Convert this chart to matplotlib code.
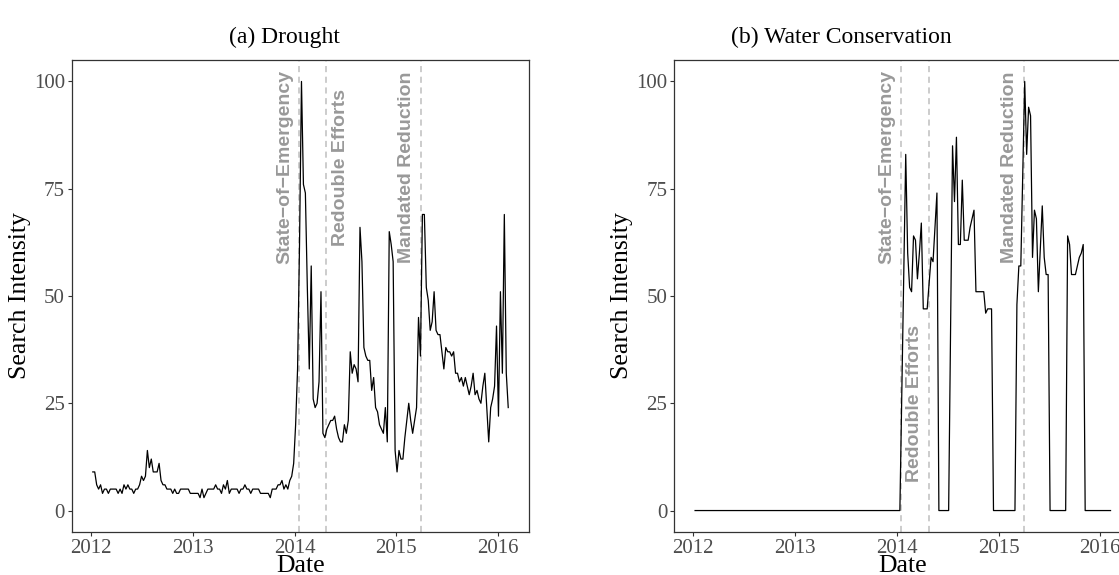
import numpy as np
import pandas as pd
import matplotlib
matplotlib.use("Agg")
import matplotlib.pyplot as plt
import matplotlib.dates as mdates

plt.rcParams['font.family'] = 'serif'
plt.rcParams['font.serif'] = ['Liberation Serif', 'DejaVu Serif']

# weekly Google Trends values, first week starting 2012-01-08
weeks = pd.date_range("2012-01-08", periods=214, freq="7D")

drought_2012 = [9, 9, 6, 5, 6, 4, 5, 5, 4, 5,
                5, 5, 5, 4, 5, 4, 6, 5, 6, 5,
                5, 4, 5, 5, 6, 8, 7, 8, 14, 10,
                12, 9, 9, 9, 11, 7, 6, 6, 5, 5,
                5, 4, 5, 4, 4, 5, 5, 5, 5, 5,
                4, 4]
drought_2013 = [4, 4, 4, 3, 5, 3, 4, 5, 5, 5,
                5, 6, 5, 5, 4, 6, 5, 7, 4, 5,
                5, 5, 5, 4, 5, 5, 6, 5, 5, 4,
                5, 5, 5, 5, 4, 4, 4, 4, 4, 3,
                5, 5, 5, 6, 6, 7, 5, 6, 5, 7,
                8, 11]
drought_2014_16 = [20, 33, 62, 100, 76, 74, 52, 33, 57, 26,
                   24, 25, 30, 51, 18, 17, 19, 20, 21, 21,
                   22, 19, 17, 16, 16, 20, 18, 21, 37, 32,
                   34, 33, 30, 66, 58, 38, 36, 35, 35, 28,
                   31, 24, 23, 20, 19, 18, 24, 16, 65, 62,
                   58, 14, 9, 14, 12, 12, 17, 21, 25, 21,
                   18, 21, 24, 45, 36, 69, 69, 52, 49, 42,
                   44, 51, 42, 41, 41, 37, 33, 38, 37, 37,
                   36, 37, 32, 32, 30, 31, 29, 31, 29, 27,
                   29, 32, 27, 28, 26, 25, 29, 32, 24, 16,
                   24, 26, 29, 43, 22, 51, 32, 69, 32, 24]

conservation_2012 = [0, 0, 0, 0, 0, 0, 0, 0, 0, 0,
                     0, 0, 0, 0, 0, 0, 0, 0, 0, 0,
                     0, 0, 0, 0, 0, 0, 0, 0, 0, 0,
                     0, 0, 0, 0, 0, 0, 0, 0, 0, 0,
                     0, 0, 0, 0, 0, 0, 0, 0, 0, 0,
                     0, 0]
conservation_2013 = [0, 0, 0, 0, 0, 0, 0, 0, 0, 0,
                     0, 0, 0, 0, 0, 0, 0, 0, 0, 0,
                     0, 0, 0, 0, 0, 0, 0, 0, 0, 0,
                     0, 0, 0, 0, 0, 0, 0, 0, 0, 0,
                     0, 0, 0, 0, 0, 0, 0, 0, 0, 0,
                     0, 0]
conservation_2014_16 = [0, 0, 28, 56, 83, 60, 52, 51, 64, 63,
                        54, 60, 67, 47, 47, 47, 53, 59, 58, 66,
                        74, 0, 0, 0, 0, 0, 0, 42, 85, 72,
                        87, 62, 62, 77, 63, 63, 63, 66, 68, 70,
                        51, 51, 51, 51, 51, 46, 47, 47, 47, 0,
                        0, 0, 0, 0, 0, 0, 0, 0, 0, 0,
                        0, 48, 57, 57, 78, 100, 83, 94, 92, 59,
                        70, 68, 51, 61, 71, 59, 55, 55, 0, 0,
                        0, 0, 0, 0, 0, 0, 0, 64, 62, 55,
                        55, 55, 57, 59, 60, 62, 0, 0, 0, 0,
                        0, 0, 0, 0, 0, 0, 0, 0, 0, 0]

drought = np.array(drought_2012 + drought_2013 + drought_2014_16)
conservation = np.array(conservation_2012 + conservation_2013 + conservation_2014_16)

event_dates = pd.to_datetime(["2014-01-17", "2014-04-25", "2015-04-01"])
event_labels = ["State\u2212of\u2212Emergency", "Redouble Efforts", "Mandated Reduction"]
# (side of line, vertical centre) for each panel
label_pos_drought = [(-1, 80), (1, 80), (-1, 80)]
label_pos_conservation = [(-1, 80), (-1, 25), (-1, 80)]

year_ticks = pd.to_datetime(["2012-01-01", "2013-01-01", "2014-01-01", "2015-01-01", "2016-01-01"])

W, H = 1119, 575
fig = plt.figure(figsize=(W / 100, H / 100), dpi=100)
ax1 = fig.add_axes([72 / W, 1 - 532 / H, 457 / W, 472 / H])
ax2 = fig.add_axes([674.3 / W, 1 - 532 / H, 457 / W, 472 / H])

span = weeks[-1] - weeks[0]
xlim = (mdates.date2num(weeks[0] - span * 0.05), mdates.date2num(weeks[-1] + span * 0.05))


def draw_panel(ax, values, label_pos):
    ax.plot(weeks, values, color="black", lw=0.9)
    for d in event_dates:
        ax.axvline(d, color="#BEBEBE", lw=1.1, ls=(0, (4, 3)), zorder=0)
    for d, lab, (side, yc) in zip(event_dates, event_labels, label_pos):
        xt = mdates.date2num(d) + side * 52
        ax.text(xt, yc, lab, rotation=90, ha="center", va="center",
                color="#999999", fontsize=14, fontweight="bold",
                family=["Liberation Sans", "DejaVu Sans"])
    ax.set_xlim(xlim)
    ax.set_ylim(-5, 105)
    ax.set_xticks(year_ticks)
    ax.xaxis.set_major_formatter(mdates.DateFormatter("%Y"))
    ax.set_yticks([0, 25, 50, 75, 100])
    for s in ax.spines.values():
        s.set_color("#333333")
        s.set_linewidth(0.9)
    ax.tick_params(direction="out", length=3, width=0.8, color="#333333",
                   labelcolor="#4D4D4D", labelsize=15, pad=2)
    ax.set_xlabel("Date", fontsize=18.5, labelpad=-2)
    ax.set_ylabel("Search Intensity", fontsize=18.5, labelpad=2)


draw_panel(ax1, drought, label_pos_drought)
draw_panel(ax2, conservation, label_pos_conservation)

fig.text(284 / W, 1 - 37 / H, "(a) Drought", ha="center", va="center", fontsize=17)
fig.text(841 / W, 1 - 37 / H, "(b) Water Conservation", ha="center", va="center", fontsize=17)

fig.savefig("out.png", dpi=100)
